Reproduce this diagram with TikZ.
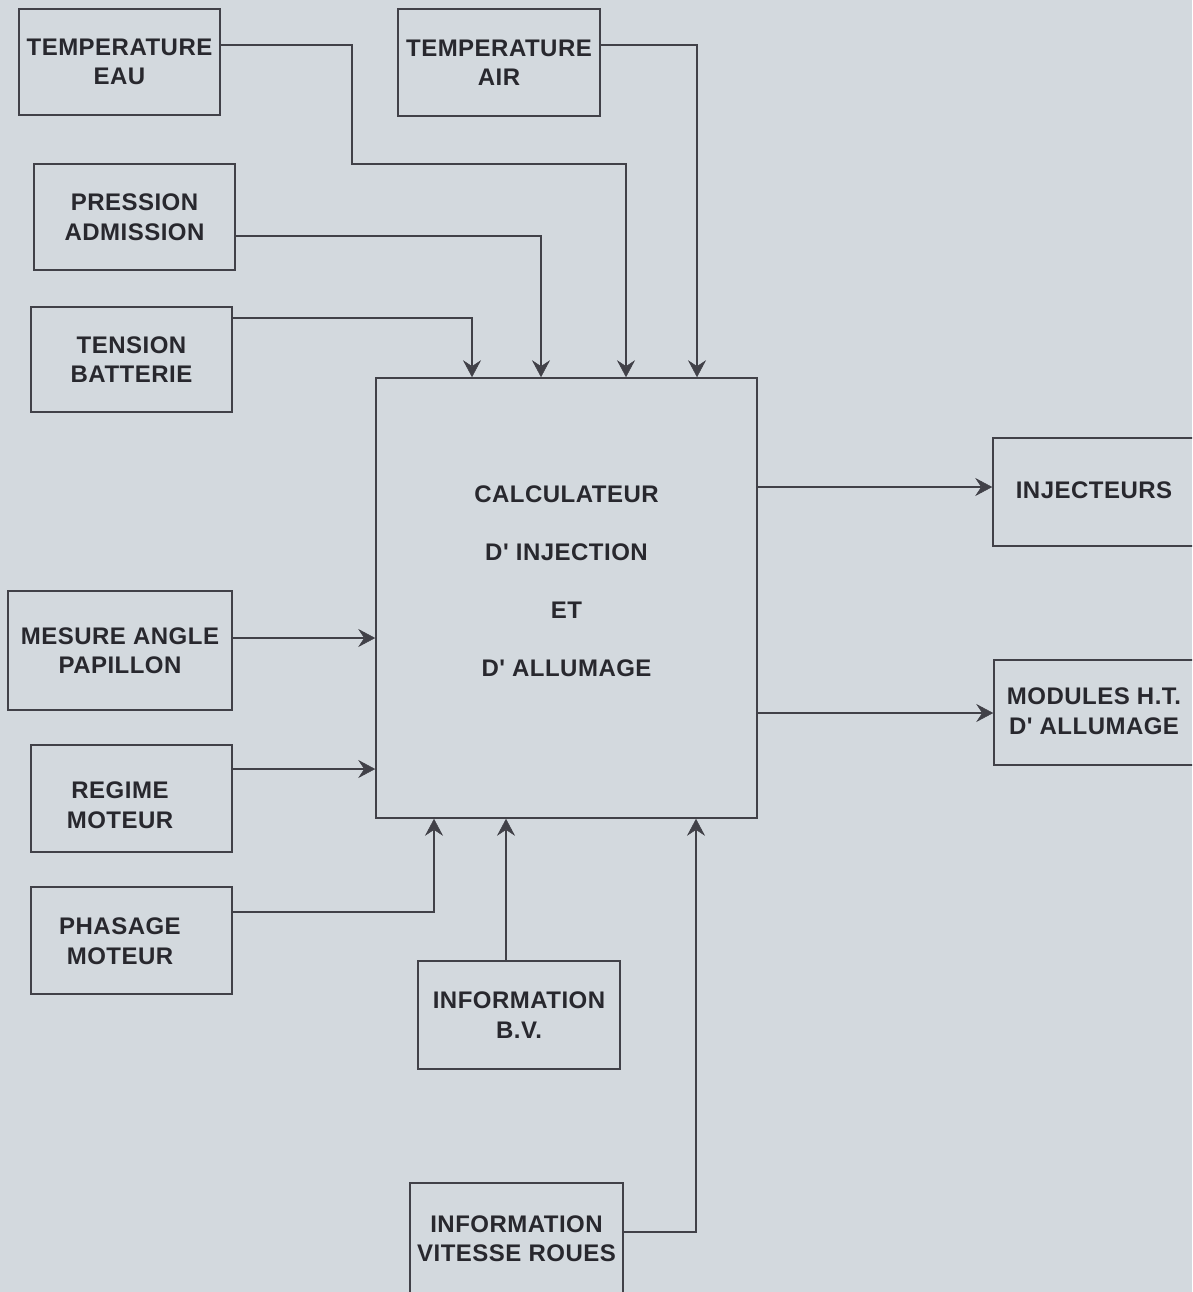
\documentclass[tikz,border=0pt]{standalone}
\usepackage{fontspec}
\setmainfont{Liberation Sans}[Ligatures=TeXOff,LetterSpace=2]
\usetikzlibrary{arrows.meta,calc}
\definecolor{bgc}{RGB}{211,217,222}
\definecolor{lnc}{RGB}{65,65,72}
\definecolor{txc}{RGB}{40,40,46}
\tikzset{
  box/.style={draw=lnc, line width=1.6pt, inner sep=0pt, align=center, text=txc,
    font=\fontsize{24}{29.5}\selectfont\bfseries},
  lbl/.style={text=txc, align=center, inner sep=0pt, font=\fontsize{24}{29.5}\selectfont\bfseries},
  arr/.style={draw=lnc, line width=1.4pt, -{Stealth[length=17pt,width=18pt,inset=6pt,line width=0.5pt]}}
}
\begin{document}
\begin{tikzpicture}[x=1pt,y=-1pt]
\useasboundingbox (0,0) rectangle (1192,1292);
\fill[bgc] (0,0) rectangle (1192,1292);
\path[clip] (0,0) rectangle (1192,1292);

\node[box, minimum width=201pt, minimum height=106pt] (teau) at (119.5,62) {TEMPERATURE\\EAU};
\node[box, minimum width=202pt, minimum height=107pt] (tair) at (499,62.5) {TEMPERATURE\\AIR};
\node[box, minimum width=201pt, minimum height=106pt] (press) at (134.5,217) {PRESSION\\ADMISSION};
\node[box, minimum width=201pt, minimum height=105pt] (tens) at (131.5,359.5) {TENSION\\BATTERIE};
\node[box, minimum width=381pt, minimum height=440pt] (calc) at (566.5,598) {};
\node[lbl, font=\fontsize{24}{58}\selectfont\bfseries] (calct) at (566.5,581) {CALCULATEUR\\D' INJECTION\\ET\\D' ALLUMAGE};
\node[box, minimum width=202pt, minimum height=108pt] (inj) at (1094,492) {};
\node[lbl] (injt) at (1094,490) {INJECTEURS};
\node[box, minimum width=202pt, minimum height=105pt] (mod) at (1095,712.5) {};
\node[lbl] (modt) at (1094,711) {MODULES H.T.\\D' ALLUMAGE};
\node[box, minimum width=224pt, minimum height=119pt] (mesure) at (120,650.5) {MESURE ANGLE\\PAPILLON};
\node[box, minimum width=201pt, minimum height=107pt] (regime) at (131.5,798.5) {};
\node[lbl] (regimet) at (120,805) {REGIME\\MOTEUR};
\node[box, minimum width=201pt, minimum height=107pt] (phas) at (131.5,940.5) {};
\node[lbl] (phast) at (120,941) {PHASAGE\\MOTEUR};
\node[box, minimum width=202pt, minimum height=108pt] (infobv) at (519,1015) {INFORMATION\\B.V.};
\node[box, minimum width=213pt, minimum height=118pt] (vit) at (516.5,1242) {};
\node[lbl] (vitt) at (516.5,1238.5) {INFORMATION\\VITESSE ROUES};

% inputs from the top
\draw[arr] ($(teau.east)+(0,-17)$) -| (352,164) -| ($(calc.north)+(59.5,0)$);
\draw[arr] ($(tair.east)+(0,-17.5)$) -| ($(calc.north)+(130.5,0)$);
\draw[arr] ($(press.east)+(0,19)$) -| ($(calc.north)+(-25.5,0)$);
\draw[arr] ($(tens.east)+(0,-41.5)$) -| ($(calc.north)+(-94.5,0)$);
% inputs from the left
\draw[arr] ($(mesure.east)+(0,-12.5)$) -- ($(calc.west)+(0,40)$);
\draw[arr] ($(regime.east)+(0,-29.5)$) -- ($(calc.west)+(0,171)$);
% inputs from below
\draw[arr] ($(phas.east)+(0,-28.5)$) -| ($(calc.south)+(-132.5,0)$);
\draw[arr] ($(infobv.north)+(-13,0)$) -- ($(calc.south)+(-60.5,0)$);
\draw[arr] ($(vit.east)+(0,-10)$) -| ($(calc.south)+(129.5,0)$);
% outputs
\draw[arr] ($(calc.east)+(0,-111)$) -- ($(inj.west)+(0,-5)$);
\draw[arr] ($(calc.east)+(0,115)$) -- ($(mod.west)+(0,0.5)$);
\end{tikzpicture}
\end{document}
